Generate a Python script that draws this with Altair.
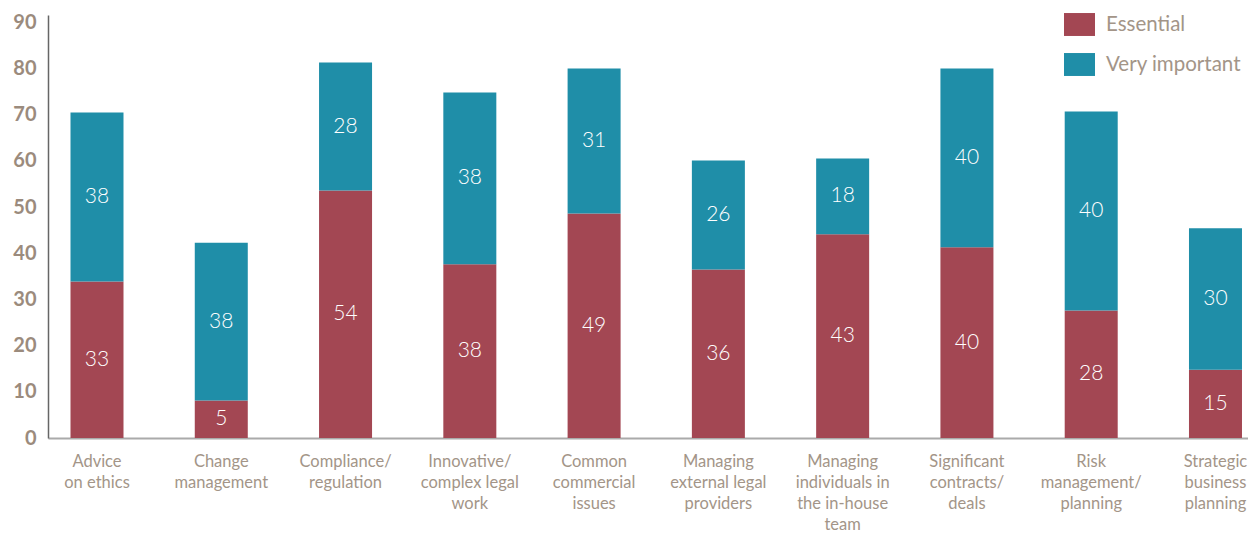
import altair as alt
import pandas as pd

categories = [
    "Advice|on ethics",
    "Change|management",
    "Compliance/|regulation",
    "Innovative/|complex legal|work",
    "Common|commercial|issues",
    "Managing|external legal|providers",
    "Managing|individuals in|the in-house|team",
    "Significant|contracts/|deals",
    "Risk|management/|planning",
    "Strategic|business|planning",
]
series = ["Essential", "Very important"]
essential_labels = [33, 5, 54, 38, 49, 36, 43, 40, 28, 15]
very_important_labels = [38, 38, 28, 38, 31, 26, 18, 40, 40, 30]
# bar heights as drawn in the picture
essential_heights = [33.9, 8.1, 53.6, 37.6, 48.6, 36.5, 44.1, 41.3, 27.6, 14.8]
very_important_heights = [36.6, 34.2, 27.7, 37.2, 31.4, 23.6, 16.4, 38.7, 43.1, 30.6]
colors = ["#a34753", "#1f8ea8"]
y_ticks = [0, 10, 20, 30, 40, 50, 60, 70, 80, 90]

rows = []
for i, c in enumerate(categories):
    rows.append({"category": c, "series": series[0], "value": essential_heights[i],
                 "label": str(essential_labels[i]), "order": 0})
    rows.append({"category": c, "series": series[1], "value": very_important_heights[i],
                 "label": str(very_important_labels[i]), "order": 1})
df = pd.DataFrame(rows)

FONT = "Lato"
TXT = "#a39588"

x_enc = alt.X(
    "category:N",
    sort=categories,
    scale=alt.Scale(paddingInner=0.5735, paddingOuter=0.1147, align=0.789),
    axis=alt.Axis(
        title=None, labelAngle=0, labelExpr="split(datum.label, '|')",
        labelFont=FONT, labelFontSize=16.5, labelFontWeight="normal",
        labelLineHeight=21, labelColor=TXT,
        labelPadding=15, ticks=False, domainColor="#aaaaaa", domainWidth=2,
        labelOverlap=False, labelBound=False, labelLimit=200, grid=False,
    ),
)

base = alt.Chart(df).transform_stack(
    stack="value", groupby=["category"], as_=["y0", "y1"],
    sort=[alt.SortField("order", order="ascending")],
)

bars = base.mark_bar().encode(
    x=x_enc,
    y=alt.Y(
        "y0:Q",
        scale=alt.Scale(domain=[0, 91.6], nice=False, zero=True),
        axis=alt.Axis(
            title=None, values=y_ticks, labelFont=FONT, labelFontSize=20,
            labelFontWeight="bold", labelColor="#9b8b7d", labelPadding=12,
            ticks=False, grid=False, domainColor="#666666", domainWidth=1.5,
        ),
    ),
    y2="y1:Q",
    color=alt.Color(
        "series:N",
        scale=alt.Scale(domain=series, range=colors),
        legend=alt.Legend(
            title=None, orient="none", legendX=1016, legendY=-6,
            symbolType="M-1,-0.74H1V0.74H-1Z", symbolSize=961,
            symbolStrokeWidth=0, symbolOpacity=1,
            labelFont=FONT, labelFontSize=20.5, labelFontWeight="normal", labelColor=TXT,
            labelOffset=11, rowPadding=13, padding=0,
        ),
    ),
)

text = base.transform_calculate(mid="(datum.y0 + datum.y1) / 2").mark_text(
    font=FONT, fontSize=21, fontWeight=300, color="white", baseline="middle", align="center"
).encode(
    x=alt.X("category:N", sort=categories),
    y=alt.Y("mid:Q"),
    text="label:N",
)

chart = (bars + text).properties(
    width=1200, height=423,
    autosize=alt.AutoSizeParams(type="none"),
    padding={"left": 40, "top": 7, "right": 0, "bottom": 94},
).configure_view(stroke=None)

chart.save("out.html", embed_options={"renderer": "svg", "actions": False})
